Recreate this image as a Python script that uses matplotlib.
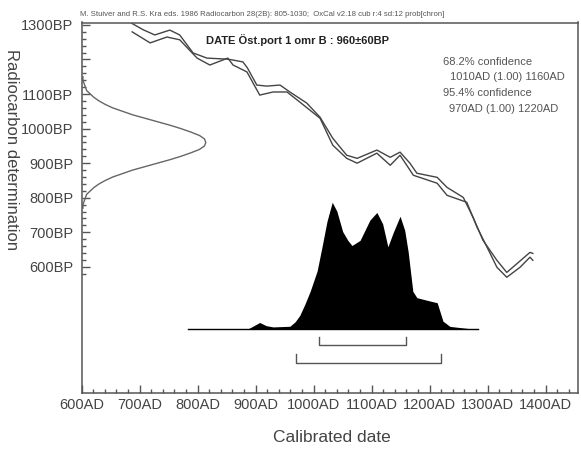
import numpy as np
import matplotlib
matplotlib.use('Agg')
import matplotlib.pyplot as plt
from matplotlib.ticker import FixedLocator

plt.rcParams['font.family'] = ['Liberation Sans', 'DejaVu Sans']

# calibration curve (upper / lower 1-sigma lines), calendar year AD vs BP
cal_up_year = [686, 706, 726, 752, 769, 792, 816, 851, 859, 878, 886, 902, 919, 942, 959,
               988, 1011, 1033, 1057, 1075, 1109, 1132, 1149, 1166, 1178, 1213, 1230,
               1258, 1275, 1292, 1316, 1333, 1351, 1373, 1378]
cal_up_bp = [1305, 1286, 1271, 1285, 1271, 1219, 1204, 1201, 1199, 1193, 1175, 1126, 1123,
             1126, 1106, 1074, 1033, 972, 923, 914, 938, 917, 932, 900, 871, 859, 830,
             801, 743, 677, 619, 584, 610, 642, 639]
cal_lo_year = [687, 718, 747, 769, 799, 821, 852, 861, 885, 907, 930, 954, 976, 1011, 1033,
               1057, 1075, 1109, 1132, 1149, 1172, 1213, 1230, 1264, 1282, 1299, 1316,
               1333, 1356, 1373, 1378]
cal_lo_bp = [1280, 1248, 1265, 1257, 1204, 1184, 1204, 1184, 1164, 1097, 1106, 1106, 1077,
             1030, 952, 914, 900, 929, 894, 923, 865, 842, 807, 787, 714, 657, 599, 570,
             599, 628, 619]

# radiocarbon determination 960+-60 BP (relative height)
det_bp = [1150, 1140, 1130, 1120, 1110, 1100, 1090, 1080, 1070, 1060, 1050, 1040, 1030,
          1020, 1010, 1000, 990, 980, 970, 960, 950, 940, 930, 920, 910, 900, 890, 880,
          870, 860, 850, 840, 830, 820, 810, 800, 790, 780, 770]
det_h = [0.01, 0.01, 0.02, 0.03, 0.04, 0.07, 0.10, 0.14, 0.19, 0.25, 0.33, 0.41, 0.51,
         0.61, 0.71, 0.80, 0.88, 0.95, 0.99, 1.00, 0.99, 0.95, 0.88, 0.80, 0.71, 0.61,
         0.51, 0.41, 0.33, 0.25, 0.19, 0.14, 0.10, 0.07, 0.04, 0.03, 0.02, 0.01, 0.01]

# calibrated probability distribution (relative)
prob_year = [885, 897, 907, 918, 930, 959, 968, 976, 985, 994, 1006, 1014, 1023, 1032,
             1040, 1050, 1059, 1066, 1080, 1097, 1109, 1119, 1128, 1137, 1149, 1157,
             1163, 1171, 1178, 1195, 1213, 1223, 1235, 1258, 1281]
prob_h = [0.0, 0.03, 0.055, 0.03, 0.02, 0.025, 0.06, 0.11, 0.20, 0.30, 0.46, 0.64, 0.85,
          1.0, 0.93, 0.77, 0.70, 0.66, 0.70, 0.86, 0.92, 0.83, 0.65, 0.76, 0.89, 0.78,
          0.61, 0.30, 0.25, 0.23, 0.21, 0.065, 0.024, 0.012, 0.0]

range_68 = (1010, 1160)
range_95 = (970, 1220)

x_ticks = [600, 700, 800, 900, 1000, 1100, 1200, 1300, 1400]
x_labels = ['600AD', '700AD', '800AD', '900AD', '1000AD', '1100AD', '1200AD', '1300AD', '1400AD']
y_ticks = [600, 700, 800, 900, 1000, 1100, 1200, 1300]
y_labels = ['600BP', '700BP', '800BP', '900BP', '1000BP', '1100BP', '', '1300BP']

fig = plt.figure(figsize=(5.81, 4.5), dpi=100)
ax = fig.add_axes([0.1406, 0.1273, 0.8544, 0.8227])
ax.set_xlim(600, 1456)
ax.set_ylim(236, 1307)

grey = '#555555'
ax.plot(cal_up_year, cal_up_bp, color='#444444', lw=1.0)
ax.plot(cal_lo_year, cal_lo_bp, color='#444444', lw=1.0)

# determination curve hanging off the y axis
ax.plot(600 + 214 * np.array(det_h), det_bp, color='#666666', lw=1.0)

# probability distribution
base, scale = 419, 368
ax.plot([783, 1283], [base, base], color='black', lw=1.0)
ax.fill_between(prob_year, base, base + scale * np.array(prob_h), color='black', lw=0)

# confidence brackets
for (a, b), yb, yt in [(range_68, 375, 396), (range_95, 323, 349)]:
    ax.plot([a, a, b, b], [yt, yb, yb, yt], color=grey, lw=1.0)

ax.xaxis.set_major_locator(FixedLocator(x_ticks))
ax.set_xticklabels(x_labels)
ax.xaxis.set_minor_locator(FixedLocator(np.arange(600, 1441, 20)))
ax.yaxis.set_major_locator(FixedLocator(y_ticks))
ax.set_yticklabels(y_labels)
ax.yaxis.set_minor_locator(FixedLocator(np.arange(580, 1301, 20)))
ax.tick_params(which='both', direction='in', colors=grey, labelcolor='#444444',
               top=False, right=False)
ax.tick_params(which='major', length=6, width=1, labelsize=10.5)
ax.tick_params(which='minor', length=3, width=1)
ax.tick_params(axis='x', which='major', pad=4)
ax.tick_params(axis='y', which='major', pad=6)
for s in ax.spines.values():
    s.set_color(grey)
    s.set_linewidth(1.1)

fig.text(80 / 581, 1 - 15 / 450,
         'M. Stuiver and R.S. Kra eds. 1986 Radiocarbon 28(2B): 805-1030;  '
         'OxCal v2.18 cub r:4 sd:12 prob[chron]',
         fontsize=5.6, color='#555555', va='center', ha='left')
fig.text(297 / 581, 1 - 40 / 450, 'DATE Öst.port 1 omr B : 960±60BP',
         fontsize=8, fontweight='bold', color='#222222', ha='center', va='center')
conf = [('68.2% confidence', 443, 62), ('1010AD (1.00) 1160AD', 450, 77),
        ('95.4% confidence', 443, 93), ('970AD (1.00) 1220AD', 449, 109)]
for t, px, py in conf:
    fig.text(px / 581, 1 - py / 450, t, fontsize=8, color='#555555', ha='left', va='center')

fig.text(11 / 581, 1 - 150 / 450, 'Radiocarbon determination', rotation=-90,
         fontsize=12, color='#444444', ha='center', va='center')
fig.text(332 / 581, 1 - 437 / 450, 'Calibrated date', fontsize=12.5, color='#444444',
         ha='center', va='center')

fig.savefig('out.png', dpi=100)
